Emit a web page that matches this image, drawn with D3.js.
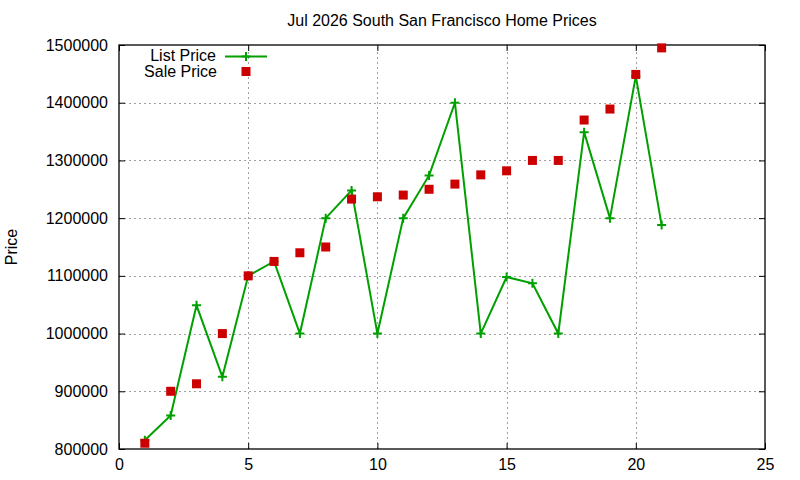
<!DOCTYPE html>
<html>
<head>
<meta charset="utf-8">
<script src="https://cdn.jsdelivr.net/npm/d3@7"></script>
<style>
  body { margin: 0; background: #fff; }
  svg { font-family: "Liberation Sans", Arial, sans-serif; }
</style>
</head>
<body>
<svg id="chart" width="800" height="480"></svg>
<script>
// month index 1..21
const months = d3.range(1, 22);
const listPrice = [815000, 858000, 1049000, 925000, 1100000, 1125000, 1000000, 1200000, 1248000, 1000000,
  1200000, 1274000, 1400000, 1000000, 1098000, 1087000, 1000000, 1349000, 1200000, 1446000, 1188000];
const salePrice = [810000, 900000, 913000, 1000000, 1100000, 1125000, 1140000, 1150000, 1233000, 1237000,
  1240000, 1250000, 1259000, 1275000, 1282000, 1300000, 1300000, 1370000, 1389000, 1449000, 1495000];
const xTicks = [0, 5, 10, 15, 20, 25];
const yTicks = [800000, 900000, 1000000, 1100000, 1200000, 1300000, 1400000, 1500000];
const title = "Jul 2026 South San Francisco Home Prices";

const margin = { left: 119, right: 35, top: 45, bottom: 31 };
const width = 800, height = 480;

const svg = d3.select("#chart");

const x = d3.scaleLinear().domain([0, 25]).range([margin.left, width - margin.right]);
const y = d3.scaleLinear().domain([800000, 1500000]).range([height - margin.bottom, margin.top]);

// grid
const grid = svg.append("g")
  .attr("stroke", "#a0a0a0")
  .attr("stroke-width", 1)
  .attr("stroke-dasharray", "2,3");

grid.selectAll(".gx").data(xTicks.slice(1, -1)).enter().append("line")
  .attr("x1", d => Math.round(x(d)) + 0.5).attr("x2", d => Math.round(x(d)) + 0.5)
  .attr("y1", y.range()[0]).attr("y2", y.range()[1]);

grid.selectAll(".gy").data(yTicks.slice(1, -1)).enter().append("line")
  .attr("x1", x.range()[0]).attr("x2", x.range()[1])
  .attr("y1", d => Math.round(y(d)) + 0.5).attr("y2", d => Math.round(y(d)) + 0.5);

// axes, ticks pointing inward, mirrored
const tickLen = 6;
svg.append("g")
  .attr("transform", `translate(0, ${y.range()[0]})`)
  .call(d3.axisBottom(x).tickValues(xTicks).tickSizeInner(-tickLen).tickSizeOuter(0).tickPadding(10));
svg.append("g")
  .attr("transform", `translate(0, ${y.range()[1]})`)
  .call(d3.axisTop(x).tickValues(xTicks).tickSizeInner(-tickLen).tickSizeOuter(0).tickFormat(""));
svg.append("g")
  .attr("transform", `translate(${x.range()[0]}, 0)`)
  .call(d3.axisLeft(y).tickValues(yTicks).tickSizeInner(-tickLen).tickSizeOuter(0).tickPadding(11).tickFormat(d3.format("d")));
svg.append("g")
  .attr("transform", `translate(${x.range()[1]}, 0)`)
  .call(d3.axisRight(y).tickValues(yTicks).tickSizeInner(-tickLen).tickSizeOuter(0).tickFormat(""));

svg.selectAll(".domain").remove();
svg.selectAll(".tick line").attr("stroke", "#000").attr("stroke-width", 1);
svg.selectAll(".tick text").attr("font-size", 16).attr("fill", "#000")
  .attr("font-family", "'Liberation Sans', Arial, sans-serif");

svg.append("rect")
  .attr("x", x.range()[0]).attr("y", y.range()[1])
  .attr("width", x.range()[1] - x.range()[0])
  .attr("height", y.range()[0] - y.range()[1])
  .attr("fill", "none").attr("stroke", "#000").attr("stroke-width", 1.3);

// title and axis label
svg.append("text")
  .attr("x", 442).attr("y", 26)
  .attr("text-anchor", "middle").attr("font-size", 16)
  .text(title);

svg.append("text")
  .attr("transform", "translate(17, 247) rotate(-90)")
  .attr("text-anchor", "middle").attr("font-size", 16)
  .text("Price");

// list price line
const green = "#00a000", red = "#cc0000";
const line = d3.line().x((d, i) => x(months[i])).y(d => y(d));

svg.append("path")
  .datum(listPrice)
  .attr("d", line)
  .attr("fill", "none").attr("stroke", green).attr("stroke-width", 2);

const plus = (g, cx, cy) => {
  g.append("path")
    .attr("d", `M${cx - 4.5},${cy}H${cx + 4.5}M${cx},${cy - 4.5}V${cy + 4.5}`)
    .attr("stroke", green).attr("stroke-width", 2);
};
const pts = svg.append("g");
listPrice.forEach((d, i) => plus(pts, x(months[i]), y(d)));

// sale price squares
svg.append("g").selectAll("rect").data(salePrice).enter().append("rect")
  .attr("x", (d, i) => x(months[i]) - 4.5)
  .attr("y", d => y(d) - 4.5)
  .attr("width", 9).attr("height", 9)
  .attr("fill", red);

// legend
const lg = svg.append("g").attr("font-size", 16);
lg.append("text").attr("x", 216).attr("y", 61).attr("text-anchor", "end").text("List Price");
lg.append("line").attr("x1", 225).attr("x2", 267).attr("y1", 56.5).attr("y2", 56.5)
  .attr("stroke", green).attr("stroke-width", 2);
plus(lg, 246, 56.5);
lg.append("text").attr("x", 217).attr("y", 77).attr("text-anchor", "end").text("Sale Price");
lg.append("rect").attr("x", 241.5).attr("y", 67).attr("width", 9).attr("height", 9).attr("fill", red);
</script>
</body>
</html>
